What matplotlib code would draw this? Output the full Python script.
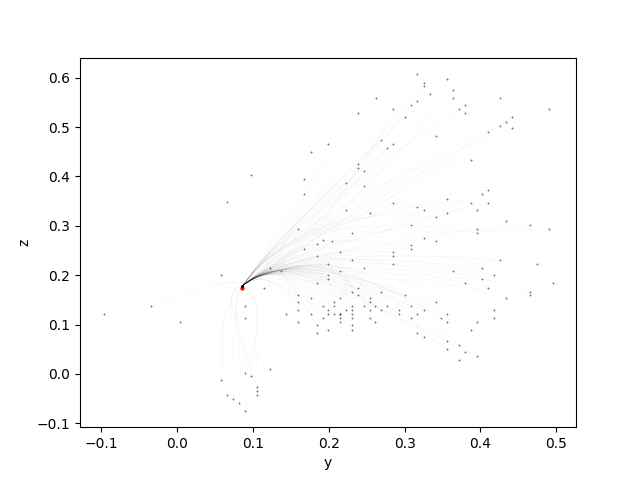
import numpy as np
import matplotlib
matplotlib.use("Agg")
import matplotlib.pyplot as plt
from matplotlib.path import Path
from matplotlib.patches import PathPatch

# start of the trajectories
start_y, start_z = 0.086, 0.178
origin_y, origin_z = 0.085, 0.175

# end points
end_y = [0.199, 0.176, 0.098, 0.168, 0.168, 0.066, 0.160, 0.192, 0.184, 0.168,
         0.317, 0.356, 0.325, 0.325, 0.364, 0.333, 0.262, 0.364, 0.426, 0.317,
         0.309, 0.379, 0.285, 0.372, 0.490, 0.239, 0.379, 0.301, 0.442, 0.434,
         0.426, 0.442, 0.410, 0.341, 0.269, 0.285, 0.277, 0.387, 0.239, 0.239,
         0.247, 0.223, 0.247, 0.410, 0.402, 0.356, 0.285, 0.387, 0.410, 0.317,
         0.325, 0.395, 0.223, 0.255, 0.356, 0.341, 0.309, 0.434, 0.395, 0.395,
         0.466, 0.490, 0.231, 0.325, 0.341, 0.309, 0.309,
         0.204, 0.184, 0.199, 0.122, 0.137, 0.199, 0.199, 0.058, 0.184, 0.114,
         0.160, 0.176, 0.160, 0.090, -0.035, 0.192, 0.160, 0.199, -0.097, 0.144,
         0.176, 0.199, 0.090, 0.192, 0.004, 0.160, 0.184, 0.199, 0.184, 0.122,
         0.090, 0.098, 0.058, 0.106, 0.106, 0.106, 0.066, 0.074, 0.082, 0.090,
         0.215, 0.285, 0.285, 0.231, 0.426, 0.285, 0.474, 0.247, 0.402, 0.215,
         0.364, 0.418, 0.402, 0.379, 0.496, 0.410, 0.239, 0.231, 0.269, 0.466,
         0.466, 0.239, 0.301, 0.215, 0.255, 0.434, 0.207, 0.255, 0.341, 0.207,
         0.231, 0.247, 0.261, 0.277, 0.309, 0.223, 0.231, 0.255, 0.269, 0.293,
         0.325, 0.418, 0.207, 0.215, 0.215, 0.231, 0.293, 0.317, 0.356, 0.215,
         0.231, 0.255, 0.309, 0.348, 0.418, 0.215, 0.261, 0.356, 0.395, 0.231,
         0.231, 0.387, 0.317, 0.325, 0.356, 0.372, 0.356, 0.379, 0.395, 0.372]
end_z = [0.465, 0.449, 0.402, 0.394, 0.364, 0.348, 0.293, 0.271, 0.263, 0.254,
         0.607, 0.598, 0.590, 0.582, 0.574, 0.566, 0.558, 0.558, 0.558, 0.552,
         0.544, 0.544, 0.536, 0.536, 0.536, 0.528, 0.528, 0.520, 0.520, 0.511,
         0.503, 0.497, 0.489, 0.481, 0.473, 0.465, 0.457, 0.434, 0.426, 0.418,
         0.410, 0.386, 0.380, 0.372, 0.364, 0.355, 0.347, 0.347, 0.347, 0.339,
         0.331, 0.331, 0.331, 0.325, 0.325, 0.317, 0.301, 0.309, 0.293, 0.285,
         0.301, 0.293, 0.285, 0.276, 0.270, 0.262, 0.254,
         0.270, 0.238, 0.222, 0.214, 0.208, 0.200, 0.192, 0.200, 0.184, 0.175,
         0.159, 0.153, 0.145, 0.137, 0.137, 0.137, 0.129, 0.129, 0.121, 0.121,
         0.121, 0.121, 0.113, 0.113, 0.105, 0.105, 0.099, 0.090, 0.082, 0.011,
         0.003, -0.005, -0.013, -0.027, -0.035, -0.043, -0.043, -0.051, -0.059, -0.074,
         0.246, 0.246, 0.238, 0.230, 0.230, 0.222, 0.222, 0.214, 0.214, 0.208,
         0.208, 0.200, 0.192, 0.184, 0.184, 0.175, 0.175, 0.167, 0.167, 0.167,
         0.159, 0.159, 0.159, 0.153, 0.153, 0.153, 0.145, 0.145, 0.145, 0.137,
         0.137, 0.137, 0.137, 0.137, 0.137, 0.129, 0.129, 0.129, 0.129, 0.129,
         0.129, 0.129, 0.121, 0.121, 0.121, 0.121, 0.121, 0.121, 0.121, 0.113,
         0.113, 0.113, 0.113, 0.113, 0.113, 0.105, 0.105, 0.105, 0.105, 0.099,
         0.090, 0.090, 0.082, 0.074, 0.066, 0.058, 0.050, 0.044, 0.036, 0.028]

# bends of each bundle of trajectories, each pair is two control points
fan_ctrl = [[(0.112, 0.212), (0.150, 0.245)],
            [(0.108, 0.218), (0.135, 0.290)],
            [(0.115, 0.215), (0.190, 0.255)],
            [(0.105, 0.225), (0.180, 0.345)]]
flat_ctrl = [[(0.118, 0.222), (0.220, 0.258)],
             [(0.116, 0.220), (0.200, 0.252)],
             [(0.120, 0.222), (0.240, 0.262)]]
low_ctrl = [[(0.118, 0.222), (0.215, 0.245)],
            [(0.116, 0.220), (0.180, 0.235)],
            [(0.120, 0.222), (0.260, 0.262)],
            [(0.118, 0.220), (0.165, 0.215)]]
near_ctrl = [[(0.112, 0.215), (0.140, 0.220)],
             [(0.115, 0.210), (0.135, 0.180)],
             [(0.110, 0.212), (0.160, 0.240)]]
down_ctrl = [[(0.055, 0.170), (0.080, 0.080)],
             [(0.065, 0.130), (0.090, 0.060)],
             [(0.120, 0.150), (0.100, 0.060)],
             [(0.050, 0.130), (0.060, 0.040)]]
left_ctrl = [[(0.075, 0.215), (0.050, 0.130)],
             [(0.060, 0.200), (0.045, 0.170)]]

end_y = np.array(end_y)
end_z = np.array(end_z)


def pick_ctrl(y, z, i):
    if y < 0.07 and 0.09 < z < 0.25:
        group = left_ctrl
    elif z < 0.14 and y < 0.13:
        group = down_ctrl
    elif z > 0.26:
        group = fan_ctrl
    elif y < 0.2:
        group = near_ctrl
    elif z > 0.2:
        group = flat_ctrl
    else:
        group = low_ctrl
    return group[i % len(group)]


fig, ax = plt.subplots()

codes = [Path.MOVETO, Path.CURVE4, Path.CURVE4, Path.CURVE4]
for i, (y, z) in enumerate(zip(end_y, end_z)):
    ctrl = pick_ctrl(y, z, i)
    verts = [(start_y, start_z), ctrl[0], ctrl[1], (y, z)]
    ax.add_patch(PathPatch(Path(verts, codes), fc="none", ec="k",
                           lw=0.35, alpha=0.03))

ax.plot(end_y, end_z, "+", color="k", ms=2, mew=0.7, alpha=0.5)
ax.plot(origin_y, origin_z, "o", color="r", ms=2)
ax.plot(start_y, start_z, "o", color="k", ms=1)

ax.set_xlim(-0.128, 0.526)
ax.set_ylim(-0.1077, 0.6405)
ax.set_xlabel("y")
ax.set_ylabel("z")

fig.savefig("out.png", dpi=100)
